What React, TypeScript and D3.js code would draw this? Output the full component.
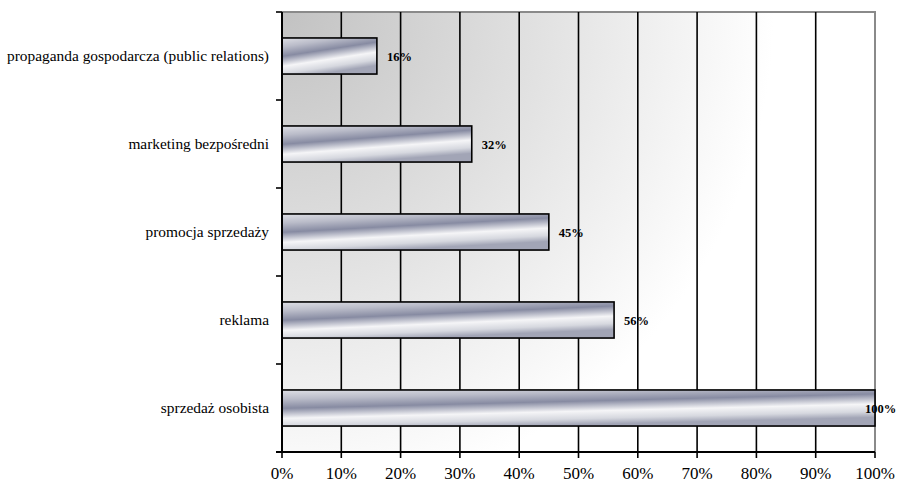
import React, { useEffect, useRef } from "react";
import * as d3 from "d3";

const categories = [
  "propaganda gospodarcza (public relations)",
  "marketing bezpośredni",
  "promocja sprzedaży",
  "reklama",
  "sprzedaż osobista",
];
const values = [16, 32, 45, 56, 100];
const ticks = [0, 10, 20, 30, 40, 50, 60, 70, 80, 90, 100];

const App = () => {
  const svgRef = useRef<SVGSVGElement>(null);

  useEffect(() => {
    const width = 897;
    const height = 484;
    const margin = { top: 12, right: 22, bottom: 32, left: 282 };
    const serif = "Liberation Serif, DejaVu Serif, serif";

    const svg = d3.select(svgRef.current);
    svg.selectAll("*").remove();
    svg.attr("width", width).attr("height", height);

    const x = d3
      .scaleLinear()
      .domain([0, 100])
      .range([margin.left, width - margin.right]);

    const y = d3
      .scaleBand()
      .domain(categories)
      .range([margin.top, height - margin.bottom])
      .paddingInner(0.59)
      .paddingOuter(0.295);

    const band = d3
      .scaleBand()
      .domain(categories)
      .range([margin.top, height - margin.bottom]);

    const defs = svg.append("defs");

    // plot background, gray in the top-left fading to white
    const bg = defs
      .append("radialGradient")
      .attr("id", "bg")
      .attr("gradientUnits", "userSpaceOnUse")
      .attr("cx", margin.left)
      .attr("cy", margin.top)
      .attr("r", 600);
    bg.append("stop").attr("offset", 0).attr("stop-color", "#c2c2c2");
    bg.append("stop").attr("offset", 0.45).attr("stop-color", "#e3e3e3");
    bg.append("stop").attr("offset", 0.82).attr("stop-color", "#ffffff");

    // metallic bar fill
    const bar = defs
      .append("linearGradient")
      .attr("id", "bar")
      .attr("x1", 0)
      .attr("y1", 0)
      .attr("x2", 0.4)
      .attr("y2", 1);
    [
      [0, "#dedfe5"],
      [0.22, "#babcc9"],
      [0.44, "#878ba2"],
      [0.68, "#f5f5f7"],
      [0.86, "#d6d8df"],
      [1, "#a2a5b6"],
    ].forEach(([o, c]) =>
      bar.append("stop").attr("offset", o).attr("stop-color", c)
    );

    const x0 = x(0);
    const x1 = x(100);
    const y0 = margin.top;
    const y1 = height - margin.bottom;

    svg
      .append("rect")
      .attr("x", x0)
      .attr("y", y0)
      .attr("width", x1 - x0)
      .attr("height", y1 - y0)
      .attr("fill", "url(#bg)");

    // border on top and right
    svg
      .append("path")
      .attr("d", `M${x0},${y0}H${x1}V${y1}`)
      .attr("fill", "none")
      .attr("stroke", "#8a8a8a")
      .attr("stroke-width", 2);

    // vertical gridlines
    svg
      .selectAll(".grid")
      .data(ticks.filter((t) => t > 0 && t < 100))
      .join("line")
      .attr("x1", (d) => x(d))
      .attr("x2", (d) => x(d))
      .attr("y1", y0)
      .attr("y2", y1)
      .attr("stroke", "#000")
      .attr("stroke-width", 1.6);

    // bars
    svg
      .selectAll(".bar")
      .data(values)
      .join("rect")
      .attr("x", x0)
      .attr("y", (d, i) => y(categories[i]))
      .attr("width", (d) => x(d) - x0)
      .attr("height", y.bandwidth())
      .attr("fill", "url(#bar)")
      .attr("stroke", "#000")
      .attr("stroke-width", 1.6);

    // value labels
    svg
      .selectAll(".val")
      .data(values)
      .join("text")
      .attr("x", (d) => Math.min(x(d) + 10, width - 32))
      .attr("y", (d, i) => y(categories[i]) + y.bandwidth() / 2 + 5)
      .style("font-family", serif)
      .style("font-size", "12.5px")
      .style("font-weight", "bold")
      .attr("fill", "#000")
      .text((d) => `${d}%`);

    // left axis with ticks at band edges
    const edges = categories.map((c) => band(c)).concat([y1]);
    svg
      .append("line")
      .attr("x1", x0)
      .attr("x2", x0)
      .attr("y1", y0)
      .attr("y2", y1)
      .attr("stroke", "#000")
      .attr("stroke-width", 2);
    svg
      .selectAll(".ytick")
      .data(edges)
      .join("line")
      .attr("x1", x0 - 6)
      .attr("x2", x0)
      .attr("y1", (d) => d)
      .attr("y2", (d) => d)
      .attr("stroke", "#000")
      .attr("stroke-width", 1.6);

    svg
      .selectAll(".cat")
      .data(categories)
      .join("text")
      .attr("x", 269)
      .attr("y", (d) => y(d) + y.bandwidth() / 2 + 5)
      .attr("text-anchor", "end")
      .style("font-family", serif)
      .style("font-size", "15.4px")
      .attr("fill", "#000")
      .text((d) => d);

    // bottom axis
    svg
      .append("line")
      .attr("x1", x0 - 6)
      .attr("x2", x1)
      .attr("y1", y1)
      .attr("y2", y1)
      .attr("stroke", "#000")
      .attr("stroke-width", 2);
    svg
      .selectAll(".xtick")
      .data(ticks)
      .join("line")
      .attr("x1", (d) => x(d))
      .attr("x2", (d) => x(d))
      .attr("y1", y1)
      .attr("y2", y1 + 6)
      .attr("stroke", "#000")
      .attr("stroke-width", 1.6);
    svg
      .selectAll(".xlab")
      .data(ticks)
      .join("text")
      .attr("x", (d) => x(d))
      .attr("y", y1 + 27)
      .attr("text-anchor", "middle")
      .style("font-family", serif)
      .style("font-size", "17px")
      .attr("fill", "#000")
      .text((d) => `${d}%`);
  }, []);

  return (
    <svg
      ref={svgRef}
      style={{ position: "absolute", left: 0, top: 0, display: "block" }}
    ></svg>
  );
};

export default App;
